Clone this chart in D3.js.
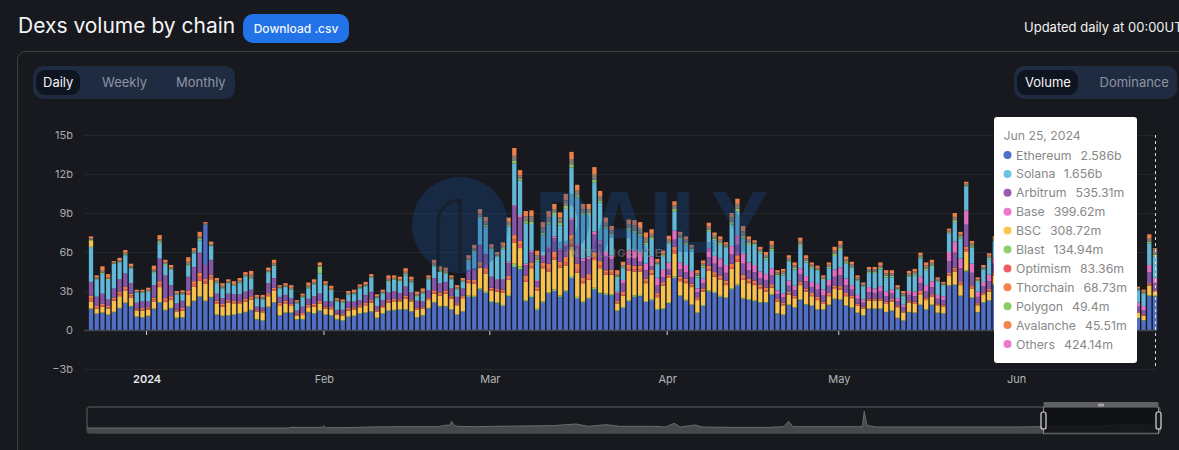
<!DOCTYPE html>
<html>
<head>
<meta charset="utf-8">
<title>Dexs volume by chain</title>
<script src="https://cdn.jsdelivr.net/npm/d3@7/dist/d3.min.js"></script>
<style>
  html, body { margin: 0; padding: 0; background: #17191e; overflow: hidden; }
  svg { display: block; font-family: Inter, "Noto Sans", sans-serif; }
</style>
</head>
<body>
<svg id="chart" width="1179" height="450"></svg>
<script>
// volumes in billions, one value per visible day (Dec 22 - May 28, then Jun 22 - Jun 25)
// the days between sit behind the tooltip in the picture
var ethereum = [1.6,1.23,1.3,1.15,1.35,1.65,2.05,1.8,1,.95,1.05,1.6,2.1,1.5,1.65,.9,.95,1.8,2.2,2.55,2.2,2.5,1.15,1.05,1.1,1.15,1.25,1.35,1.5,.8,.7,1.75,2.1,1.1,1.3,1.3,.8,.8,1.35,1.25,1.45,1.15,1.1,.8,.7,1,1.05,1.25,
  1.3,1.4,.9,1.25,1.45,1.5,1.55,1.55,1.4,.95,1.1,1.65,2.1,1.8,1.8,1.55,1.15,1.4,2.55,2.55,3.1,2.85,2.15,2.05,1.85,2.6,4.85,4.65,2.2,2.5,1.55,2.1,2.8,3,2.55,2.95,4,2.4,2.1,2.4,3.1,2.8,2.7,2.65,1.45,1.7,2.2,2.55,2.6,2.15,2.25,1.55,1.6,2.05,
  4,2.6,2.25,1.9,1.3,1.85,2.95,2.85,2.55,2.45,3.1,3.4,2.4,2.3,2.2,2.1,2.1,2.7,1.25,1.15,1.9,1.7,2.3,1.95,1.85,1.55,1.55,1.9,2.35,2.3,1.85,1.7,1.3,1.1,1.6,1.6,1.6,1.35,1.45,.9,.7,1.35,1.3,1.9,1.55,1.9,1.3,1.25,3.4,3.45,2.6,4.5,2.45,1.35,2.1,2.25,3.45,
  .9,.72,2.6,2.586];
var polygon = [.05,.05,.05,.05,.05,.05,.05,.05,.05,.05,.05,.05,.05,.05,.05,.05,.05,.05,.05,.05,.05,.05,.05,.05,.05,.05,.05,.05,.05,.05,.05,.05,.05,.05,.05,.05,.05,.05,.05,.05,.05,.05,.05,.05,.05,.05,.05,.05,
  .05,.05,.05,.05,.05,.05,.05,.05,.05,.05,.05,.05,.05,.05,.05,.05,.05,.05,.1,.08,.1,.1,.08,.08,.08,.1,.25,.25,.1,.12,.08,.1,.1,.12,.1,.12,.15,.15,.08,.08,.15,.12,.1,.1,.05,.07,.1,.1,.1,.08,.1,.07,.08,.1,
  .12,.07,.07,.06,.05,.06,.1,.08,.08,.07,.1,.12,.07,.07,.06,.05,.05,.05,.05,.04,.05,.05,.07,.05,.05,.05,.04,.05,.06,.06,.05,.05,.04,.04,.05,.05,.05,.04,.05,.04,.04,.04,.04,.05,.05,.05,.04,.04,.05,.07,.05,.1,.06,.04,.05,.05,.06,
  .03,.03,.06,.0494];
var bsc = [.55,.37,.45,.45,.85,.9,.9,.65,.45,.5,.45,.55,1.15,.6,.6,.45,.5,.85,1.1,1.2,1.3,1.35,.8,.7,.95,.85,.7,.8,.8,.55,.6,.8,.85,.75,.7,.5,.25,.3,.35,.5,.55,.45,.45,.3,.35,.45,.45,.45,
  .55,.65,.45,.45,.6,.65,.6,.8,.75,.55,.5,.6,.65,.8,.95,.8,.7,1,.95,.92,1.6,1.4,.77,.82,.92,1.15,1.6,1.4,1.4,2.13,1.37,2.55,1.6,2.28,2.15,1.9,2.25,1.87,1.42,1.37,2.13,1.83,1.45,1.5,.55,.88,2.25,1.85,1.8,1.37,1.9,.9,1.75,1.85,
  1.78,1.08,1.28,1.34,.95,1.04,1.5,1.17,1.22,.93,1.5,1.73,1.38,1.23,1.19,1,.8,.5,.9,.71,.75,.7,1.08,.95,.7,.7,.41,.65,.74,.74,.7,.7,.51,.51,.6,.6,.6,.61,.7,.81,.61,.71,.66,.8,.7,.6,.56,.51,.7,.98,.8,1.4,.69,.51,.55,.65,.69,
  .4,.35,.74,.30872];
var optimism = [.25,.12,.12,.1,.12,.2,.15,.15,.08,.1,.1,.15,.25,.15,.15,.08,.1,.15,.2,.3,.2,.2,.12,.1,.1,.1,.1,.1,.12,.06,.06,.12,.12,.1,.1,.08,.05,.08,.1,.1,.1,.08,.08,.05,.06,.1,.1,.08,
  .1,.1,.06,.07,.1,.1,.08,.12,.08,.08,.07,.1,.12,.12,.12,.1,.08,.1,.12,.15,.2,.2,.12,.1,.12,.15,.25,.25,.15,.15,.1,.12,.2,.2,.15,.2,.2,.2,.15,.15,.2,.2,.15,.15,.08,.12,.15,.15,.15,.12,.12,.12,.1,.1,
  .2,.15,.15,.12,.1,.1,.15,.15,.15,.15,.15,.2,.15,.15,.15,.12,.12,.12,.08,.08,.1,.08,.12,.1,.1,.1,.08,.1,.12,.12,.1,.08,.08,.06,.08,.08,.08,.08,.08,.06,.05,.08,.08,.1,.1,.1,.06,.06,.12,.15,.12,.2,.12,.08,.08,.1,.1,
  .05,.05,.1,.08336];
var avalanche = [.2,.12,.12,.1,.12,.15,.2,.15,.08,.1,.1,.15,.2,.15,.15,.08,.1,.2,.2,.3,.2,.15,.15,.1,.1,.1,.1,.1,.12,.06,.06,.12,.12,.1,.1,.08,.05,.08,.1,.1,.1,.08,.08,.05,.06,.1,.1,.08,
  .1,.1,.06,.07,.1,.1,.08,.12,.08,.08,.07,.1,.13,.12,.12,.1,.08,.1,.13,.15,.25,.2,.13,.1,.13,.15,.35,.3,.35,.3,.2,.3,.4,.45,.3,.45,.7,.5,.3,.3,.4,.35,.2,.25,.1,.15,.3,.3,.3,.25,.25,.2,.15,.15,
  .3,.2,.2,.15,.12,.15,.25,.2,.2,.2,.25,.3,.25,.2,.2,.2,.2,.15,.12,.12,.15,.12,.15,.15,.15,.15,.1,.15,.15,.15,.15,.1,.1,.08,.1,.1,.1,.1,.1,.08,.05,.1,.1,.15,.1,.1,.08,.08,.12,.15,.12,.2,.12,.08,.08,.1,.1,
  .05,.05,.1,.04551];
var arbitrum = [1.02,.64,.73,.47,.68,.92,.97,.77,.41,.47,.42,.92,1.72,1.72,.82,.46,.52,1.02,1.07,1.52,1.02,1.12,.5,.42,.47,.47,.52,.52,.48,.25,.25,.73,.73,.42,.42,.41,.27,.46,.42,.57,.52,.36,.41,.27,.3,.47,.42,.36,
  .57,.62,.3,.38,.57,.57,.46,.68,.51,.51,.38,.52,.92,.68,.63,.57,.46,.52,.72,.87,1.27,1.07,.82,.7,.75,1,2.2,1.8,.8,.8,.45,.48,1.15,1,.85,.85,1.15,1.3,1.25,1.15,1.35,1.3,1.1,.8,.62,.68,.5,.55,.3,.63,.28,.58,.4,.4,
  .55,.55,.5,.48,.38,.4,.65,.65,.65,.6,.7,.8,.85,.65,.65,.53,.58,.68,.35,.4,.45,.4,.58,.55,.45,.55,.47,.55,.68,.83,.6,.47,.37,.31,.47,.42,.52,.42,.42,.31,.3,.42,.42,.6,.5,.55,.36,.36,.91,1.15,1.06,1.7,.96,.49,.49,.6,.7,
  .37,.3,.85,.53531];
var base = [.03,.03,.03,.03,.03,.03,.03,.03,.03,.03,.03,.03,.03,.03,.03,.03,.03,.03,.03,.03,.03,.03,.03,.03,.03,.03,.03,.03,.03,.03,.03,.03,.03,.03,.03,.03,.03,.03,.03,.03,.03,.03,.03,.03,.03,.03,.03,.03,
  .03,.03,.03,.03,.03,.03,.03,.03,.03,.03,.03,.03,.03,.03,.03,.03,.03,.03,.03,.03,.03,.03,.03,.05,.05,.1,.1,.2,.1,.1,.1,.1,.15,.15,.15,.15,.15,.2,.2,.2,.25,.3,.3,.3,.1,.25,.6,.65,.75,.5,.75,.6,.55,.55,
  .7,.55,.55,.5,.3,.35,.7,.6,.65,.6,.65,.75,.8,.6,.55,.5,.45,.55,.3,.3,.4,.35,.45,.4,.4,.45,.45,.45,.55,.6,.5,.35,.3,.25,.4,.35,.4,.35,.3,.25,.2,.3,.35,.5,.45,.45,.3,.3,.7,.85,.75,1.1,.7,.4,.35,.5,.5,
  .3,.35,.55,.39962];
var solana = [2.7,1.34,1.5,1.5,1.9,1.3,1.4,1.15,.8,.65,.75,.95,1.15,.8,1.2,.65,.5,.85,1.05,.95,0,1.05,.8,.75,.8,.65,.85,1.15,.85,.6,.6,.8,.85,.65,.6,.65,.55,.7,.8,.9,1.55,1.2,.8,.65,.55,.5,.55,.9,
  .65,1.05,.6,.5,.8,.85,.85,.85,.75,.3,.6,.8,.9,.9,.65,.7,.55,.5,.7,1.25,2.05,2.1,2.05,1.75,2.3,2.7,3.2,2.65,3.1,2.05,1.4,1.55,1.7,1.65,1.8,2.7,3.9,3.55,3.35,3.2,3.75,2.9,1.8,1.55,1.05,.9,1.6,1.3,1.2,1.45,1.35,1,1.05,1.45,
  1.45,1.8,1.55,1.6,.85,.85,1.25,1.2,1.05,1.35,1.65,1.8,1.15,1.35,1.55,1.4,1.15,1.35,1.1,1.4,1.45,1.25,1.7,1.05,1.05,1,.75,.9,1.05,1.35,1.15,1.35,1.1,1,1.1,1.2,1.3,1.1,.95,.65,.6,1.1,1.25,1.4,1.15,1.1,1.05,.85,1.45,1.5,1.55,1.85,1.25,.75,.95,1.2,1.2,
  .95,.95,1.65,1.656];
var blast = [.05,.05,.1,.08,.03,.05,.07,.05,.03,.05,.05,.1,.12,.07,.05,.05,.05,.1,.07,.12,.03,.05,.07,.07,.05,.05,.07,.05,.1,.05,.05,.07,.1,.05,.05,.05,.05,.05,.08,.07,.5,.06,.07,.05,.05,.05,.06,.05,
  .06,.05,.05,.05,.08,.05,.07,.1,.08,.07,.07,.06,.08,.07,.08,.05,.06,.05,.08,.1,.12,.15,.08,.06,.1,.12,.2,.15,.17,.2,.15,.2,.2,.15,.2,.22,.25,.2,.15,.15,.22,.17,.15,.12,.1,.08,.15,.2,.2,.17,.13,.08,.08,.1,
  .2,.12,.15,.1,.12,.12,.15,.13,.15,.08,.2,.22,.2,.15,.08,.1,.12,.17,.1,.1,.1,.12,.15,.12,.1,.08,.07,.1,.15,.15,.12,.1,.08,.06,.1,.1,.12,.12,.12,.07,.1,.1,.1,.1,.13,.12,.06,.05,.07,.15,.1,.07,.1,.07,.07,.1,.08,
  .06,.05,.13,.13494];
var others = [.1,.1,.15,.12,.07,.1,.13,.1,.07,.08,.1,.15,.2,.13,.1,.1,.1,.2,.13,.2,.07,.1,.13,.13,.1,.1,.13,.1,.2,.1,.12,.13,.17,.08,.1,.1,.08,.1,.15,.13,.12,.12,.13,.08,.08,.1,.12,.1,
  .11,.1,.1,.1,.17,.12,.13,.18,.15,.13,.13,.12,.17,.13,.15,.1,.12,.1,.15,.18,.25,.25,.15,.12,.18,.25,.4,.25,.38,.4,.35,.4,.4,.3,.4,.43,.4,.35,.3,.3,.4,.33,.3,.25,.2,.17,.3,.4,.45,.38,.27,.15,.15,.2,
  .3,.2,.25,.15,.2,.2,.25,.22,.25,.15,.35,.38,.35,.25,.12,.2,.2,.28,.17,.2,.2,.2,.25,.2,.17,.15,.13,.17,.25,.25,.2,.17,.15,.12,.17,.17,.2,.2,.2,.13,.17,.17,.2,.17,.22,.2,.12,.1,.13,.25,.2,.13,.2,.13,.13,.17,.15,
  .1,.12,.25,.42414];
var thorchain = [.15,.15,.35,.25,.1,.2,.2,.2,.1,.12,.15,.3,.33,.2,.2,.15,.15,.35,.2,.33,.1,.2,.2,.2,.15,.2,.2,.2,.3,.15,.18,.2,.28,.12,.15,.2,.12,.15,.22,.2,.23,.17,.2,.12,.12,.15,.17,.15,
  .18,.15,.15,.15,.25,.18,.2,.27,.22,.2,.2,.17,.25,.2,.22,.15,.17,.15,.22,.27,.33,.35,.22,.17,.27,.33,.6,.4,.4,.45,.35,.4,.45,.4,.4,.5,.55,.45,.4,.4,.58,.4,.4,.33,.3,.25,.35,.4,.45,.4,.35,.22,.22,.3,
  .3,.23,.25,.15,.23,.23,.3,.25,.25,.17,.35,.4,.4,.25,.15,.2,.23,.3,.18,.2,.2,.23,.25,.23,.18,.17,.15,.18,.3,.3,.23,.18,.17,.12,.18,.18,.23,.23,.23,.15,.18,.18,.2,.18,.25,.23,.12,.1,.15,.3,.2,.15,.2,.15,.15,.18,.17,
  .12,.13,.33,.06873];

// two layers the tooltip does not list, seen on single days only
var blueLayerDays = [20], blueLayerVolume = [3.1];
var yellowLayerDays = [0], yellowLayerVolume = [.5];

// overview strip under the chart: day since start of the history, volume in billions
var miniDay = [0,328,330,383,385,388,420,461,507,548,571,586,590,593,597,603,629,664,705,757,795,815,844,866,924,941,955,965,989,1000,1041,1110,1133,1141,1148,1209,1255,1261,1264,1268,1284,1360,1447,1505,1556,1620,1708,1720,1745];
var miniVolume = [0,0,2,2,7,1,1,3,4,4,4,9,8,20,8,5,4,5,6,7,12,5,10,5,5,3,14,3,9,3,2,2,4,20,4,4,4,4,50,8,3,3,3,3,4,5,10,9,5];

var yTicks = [-3, 0, 3, 6, 9, 12, 15];
var monthTicks = [new Date(Date.UTC(2024,0,1)), new Date(Date.UTC(2024,1,1)), new Date(Date.UTC(2024,2,1)), new Date(Date.UTC(2024,3,1)), new Date(Date.UTC(2024,4,1)), new Date(Date.UTC(2024,5,1))];
var monthLabels = ['2024', 'Feb', 'Mar', 'Apr', 'May', 'Jun'];

var visibleDays = d3.utcDay.range(new Date(Date.UTC(2023,11,22)), new Date(Date.UTC(2024,4,29)))
    .concat(d3.utcDay.range(new Date(Date.UTC(2024,5,22)), new Date(Date.UTC(2024,5,26))));

function sparseLayer(days, volume) {
    var out = visibleDays.map(function () { return 0; });
    days.forEach(function (d, i) { out[d] = volume[i]; });
    return out;
}

// stacking order, bottom to top
var layers = [
    {key: 'Ethereum', values: ethereum, color: '#4f6ec4'},
    {key: 'Polygon', values: polygon, color: '#86c76a'},
    {key: 'BSC', values: bsc, color: '#f6c14f'},
    {key: 'Optimism', values: optimism, color: '#e65f5c'},
    {key: 'Avalanche', values: avalanche, color: '#ef8049'},
    {key: 'Arbitrum', values: arbitrum, color: '#8655a8'},
    {key: 'Base', values: base, color: '#e06ec2'},
    {key: 'Solana', values: solana, color: '#62b6d8'},
    {key: 'unlistedBlue', values: sparseLayer(blueLayerDays, blueLayerVolume), color: '#4f6ec4'},
    {key: 'unlistedYellow', values: sparseLayer(yellowLayerDays, yellowLayerVolume), color: '#f6c14f'},
    {key: 'Blast', values: blast, color: '#8bc569'},
    {key: 'Others', values: others, color: '#857a74'},
    {key: 'Thorchain', values: thorchain, color: '#ef8049'}
];

// same order as the tooltip in the picture
var tooltipRows = [
    {name: 'Ethereum', values: ethereum, dot: '#4f6fc8'},
    {name: 'Solana', values: solana, dot: '#6cc3e3'},
    {name: 'Arbitrum', values: arbitrum, dot: '#9b59b0'},
    {name: 'Base', values: base, dot: '#ee78cf'},
    {name: 'BSC', values: bsc, dot: '#fcc74f'},
    {name: 'Blast', values: blast, dot: '#90cf6d'},
    {name: 'Optimism', values: optimism, dot: '#ee6060'},
    {name: 'Thorchain', values: thorchain, dot: '#f5844c'},
    {name: 'Polygon', values: polygon, dot: '#88cc6a'},
    {name: 'Avalanche', values: avalanche, dot: '#f5844c'},
    {name: 'Others', values: others, dot: '#ea78cf'}
];

layers.forEach(function (l) {
    if (l.values.length !== visibleDays.length) throw new Error(l.key + ' has ' + l.values.length + ' of ' + visibleDays.length);
});

var rows = visibleDays.map(function (d, i) {
    var row = {date: d};
    layers.forEach(function (l) { row[l.key] = l.values[i]; });
    return row;
});

var svg = d3.select('#chart');

// ---- page header
svg.append('text').attr('x', 18).attr('y', 33).attr('fill', '#f4f5f6')
    .attr('font-size', 21).attr('font-weight', 400).text('Dexs volume by chain');
svg.append('rect').attr('x', 243).attr('y', 14).attr('width', 106).attr('height', 29).attr('rx', 10).attr('fill', '#2272e8');
svg.append('text').attr('x', 296).attr('y', 32.5).attr('text-anchor', 'middle').attr('fill', '#f4f7fc')
    .attr('font-size', 12).attr('font-weight', 500).text('Download .csv');
svg.append('text').attr('x', 1024).attr('y', 32).attr('fill', '#f0f1f2').attr('font-size', 13).text('Updated daily at 00:00UTC');

// card outline runs off the window on the right and at the bottom
svg.append('rect').attr('x', 17.5).attr('y', 51.5).attr('width', 1300).attr('height', 600).attr('rx', 8)
    .attr('fill', 'none').attr('stroke', '#3d3f43');

function segmented(x, width, activeWidth, labels) {
    var g = svg.append('g');
    g.append('rect').attr('x', x).attr('y', 66).attr('width', width).attr('height', 33).attr('rx', 10).attr('fill', '#1f2b41');
    g.append('rect').attr('x', x + 3).attr('y', 70).attr('width', activeWidth).attr('height', 25).attr('rx', 9).attr('fill', '#0e1420');
    g.selectAll('text').data(labels).enter().append('text')
        .attr('x', function (d) { return d.x; }).attr('y', 87).attr('font-size', 13)
        .attr('fill', function (d, i) { return i === 0 ? '#f2f3f5' : '#8d94a3'; })
        .text(function (d) { return d.text; });
}
segmented(33, 202, 44, [{text: 'Daily', x: 43}, {text: 'Weekly', x: 102}, {text: 'Monthly', x: 176}]);
segmented(1014, 163, 61, [{text: 'Volume', x: 1025}, {text: 'Dominance', x: 1099.5}]);

// ---- scales and axes
var x = d3.scaleUtc().domain([new Date(Date.UTC(2023,11,22)), new Date(Date.UTC(2024,5,25))]).range([91, 1155]);
var y = d3.scaleLinear().domain([-3, 15]).range([369, 135]);
var barWidth = 4.3;

var yAxis = d3.axisLeft(y).tickValues(yTicks).tickSize(0).tickPadding(0)
    .tickFormat(function (v) { return v === 0 ? '0' : v < 0 ? '\u2212' + (-v) + 'b' : v + 'b'; });
var yG = svg.append('g').attr('transform', 'translate(73,0)').call(yAxis);
yG.select('.domain').remove();
yG.selectAll('text').attr('fill', '#a8aaae').attr('font-size', 11).attr('font-family', 'Inter');

svg.append('g').selectAll('line').data(yTicks.filter(function (v) { return v !== 0; })).enter().append('line')
    .attr('x1', 84).attr('x2', 1157)
    .attr('y1', function (v) { return y(v) + .5; }).attr('y2', function (v) { return y(v) + .5; })
    .attr('stroke', '#23262b');

// ---- stacked bars
var stack = d3.stack().keys(layers.map(function (l) { return l.key; }));
svg.append('g').selectAll('g').data(stack(rows)).enter().append('g')
    .attr('fill', function (s, i) { return layers[i].color; })
    .selectAll('rect').data(function (s) { return s; }).enter().append('rect')
    .attr('x', function (d) { return x(d.data.date) - barWidth / 2; })
    .attr('width', barWidth)
    .attr('y', function (d) { return y(d[1]); })
    .attr('height', function (d) { return Math.max(0, y(d[0]) - y(d[1])); });

// zero line and month ticks, ticks sit a little left of the bar centre
svg.append('line').attr('x1', 84).attr('x2', 1157).attr('y1', y(0) + .5).attr('y2', y(0) + .5)
    .attr('stroke', '#41454f').attr('stroke-width', 1.5);

var xAxis = d3.axisBottom(x).tickValues(monthTicks).tickSize(0).tickPadding(0)
    .tickFormat(function (d, i) { return monthLabels[i]; });
var xG = svg.append('g').attr('transform', 'translate(-1.6,' + 375 + ')').call(xAxis);
xG.select('.domain').remove();
xG.selectAll('text').attr('font-size', 11).attr('font-family', 'Inter')
    .attr('fill', function (d, i) { return i === 0 ? '#e8e9ea' : '#b4b6b9'; })
    .attr('font-weight', function (d, i) { return i === 0 ? 600 : 400; });
svg.append('g').selectAll('line').data(monthTicks).enter().append('line')
    .attr('x1', function (d) { return x(d) - 1.6; }).attr('x2', function (d) { return x(d) - 1.6; })
    .attr('y1', y(0) + 1).attr('y2', y(0) + 5).attr('stroke', '#d0d2d5');

// ---- watermark lies over the bars
var mark = svg.append('g').attr('fill', '#1b4a8c').attr('opacity', .34);
mark.append('circle').attr('cx', 460).attr('cy', 225).attr('r', 48);
svg.append('path').attr('d', 'M438,272 V222 A22,22 0 0 1 460,200 V272')
    .attr('fill', 'none').attr('stroke', '#17191e').attr('stroke-width', 3).attr('opacity', .6);
mark.append('text').attr('x', 535).attr('y', 252).attr('font-size', 82).attr('font-weight', 700)
    .attr('font-family', 'Inter').attr('textLength', 234).attr('lengthAdjust', 'spacingAndGlyphs').text('DAILY');
svg.append('text').attr('x', 566).attr('y', 257).attr('font-size', 11).attr('font-weight', 600)
    .attr('letter-spacing', 1.5).attr('fill', '#8a8d92').attr('opacity', .55).text('INTELLIGENCE');

// ---- pointer line and tooltip for the last day
var lastDay = visibleDays[visibleDays.length - 1];
svg.append('line').attr('x1', x(lastDay) + .5).attr('x2', x(lastDay) + .5).attr('y1', 135).attr('y2', 369)
    .attr('stroke', '#d8d9db').attr('stroke-dasharray', '3,3');

function formatVolume(v) {
    if (v >= 1) return parseFloat(v.toFixed(3)) + 'b';
    return parseFloat((v * 1000).toFixed(2)) + 'm';
}
var last = visibleDays.length - 1;
var tip = svg.append('g');
tip.append('rect').attr('x', 994).attr('y', 117).attr('width', 143).attr('height', 246).attr('rx', 3).attr('fill', '#ffffff');
tip.append('text').attr('x', 1003.5).attr('y', 140).attr('font-size', 12.3).attr('fill', '#8b8b8b')
    .text(d3.utcFormat('%b %d, %Y')(lastDay));
var tipRow = tip.selectAll('g').data(tooltipRows).enter().append('g')
    .attr('transform', function (d, i) { return 'translate(0,' + (155 + i * 18.9) + ')'; });
tipRow.append('circle').attr('cx', 1007.5).attr('cy', 0).attr('r', 4).attr('fill', function (d) { return d.dot; });
var tipText = tipRow.append('text').attr('x', 1016).attr('y', 4.5).attr('font-size', 12.3).attr('fill', '#888888');
tipText.append('tspan').text(function (d) { return d.name; });
tipText.append('tspan').attr('dx', 9).text(function (d) { return formatVolume(d.values[last]); });

// ---- overview strip
var miniX = d3.scaleLinear().domain([0, 1745]).range([87, 1160]);
var miniY = d3.scaleLinear().domain([-15, 63]).range([433, 407]);
var mini = svg.append('g');
mini.append('rect').attr('x', 87).attr('y', 407).attr('width', 1073).attr('height', 26).attr('rx', 3)
    .attr('fill', 'none').attr('stroke', '#46484c').attr('stroke-width', 1.5);
var miniPoints = miniDay.map(function (d, i) { return [d, miniVolume[i]]; });
mini.append('path').datum(miniPoints).attr('fill', '#47484b')
    .attr('d', d3.area().x(function (d) { return miniX(d[0]); }).y0(433).y1(function (d) { return miniY(d[1]); }));
mini.append('path').datum(miniPoints).attr('fill', 'none').attr('stroke', '#6a6c6f').attr('stroke-width', 1)
    .attr('d', d3.line().x(function (d) { return miniX(d[0]); }).y(function (d) { return miniY(d[1]); }));

// selected window of the strip
var selLeft = 1043.5, selRight = 1158.5;
mini.append('rect').attr('x', selLeft).attr('y', 407.5).attr('width', selRight - selLeft).attr('height', 26).attr('fill', '#101113').attr('opacity', .88);
mini.append('rect').attr('x', selLeft).attr('y', 402).attr('width', selRight - selLeft).attr('height', 5.5).attr('fill', '#606164');
mini.append('line').attr('x1', selLeft).attr('x2', selRight).attr('y1', 433.5).attr('y2', 433.5).attr('stroke', '#5f6063').attr('stroke-width', 1.5);
mini.selectAll('.grip').data([-2, 0, 2]).enter().append('rect').attr('class', 'grip')
    .attr('x', function (d) { return 1100.5 + d; }).attr('y', 403.5).attr('width', 1).attr('height', 3).attr('fill', '#e4e4e4');
[selLeft, selRight].forEach(function (hx) {
    mini.append('line').attr('x1', hx).attr('x2', hx).attr('y1', 407).attr('y2', 434).attr('stroke', '#8a8b8d');
    mini.append('rect').attr('x', hx - 2.5).attr('y', 412).attr('width', 5).attr('height', 17).attr('rx', 2)
        .attr('fill', '#17181b').attr('stroke', '#d9dadb').attr('stroke-width', 1.2);
});
</script>
</body>
</html>
